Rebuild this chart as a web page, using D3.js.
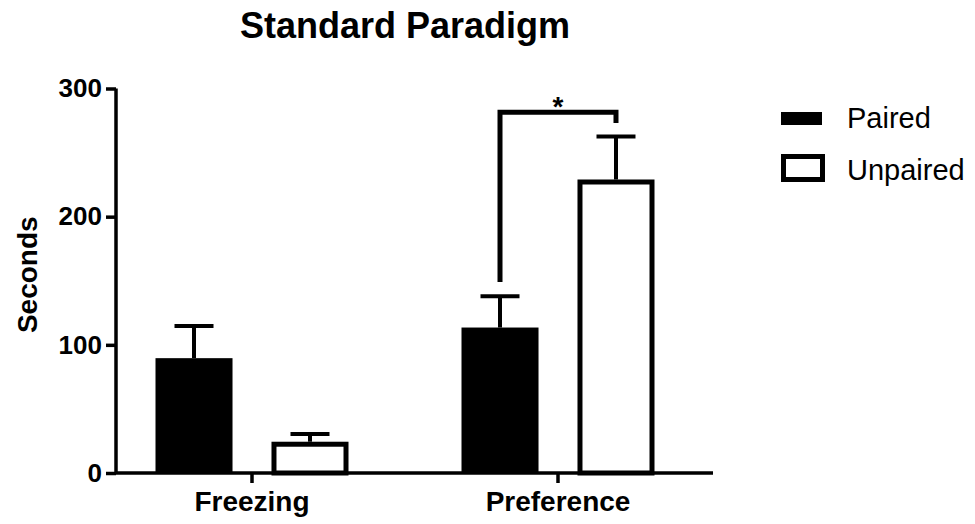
<!DOCTYPE html>
<html>
<head>
<meta charset="utf-8">
<script src="https://cdn.jsdelivr.net/npm/d3@7"></script>
<style>
  body { margin: 0; background: #fff; }
  svg { display: block; font-family: "Liberation Sans", Arial, sans-serif; }
</style>
</head>
<body>
<div id="chart"></div>
<script>
// data
const categories = ["Freezing", "Preference"];
const series = ["Paired", "Unpaired"];
const pairedMean = [89.6, 113.5];
const pairedSem = [25, 24.5];
const unpairedMean = [24.4, 229];
const unpairedSem = [6, 33.6];
const yTicks = [0, 100, 200, 300];
// significance bracket: Preference, Paired vs Unpaired
const sigLeftFrom = 149, sigRightFrom = 273, sigTop = 281.5;

const width = 975, height = 524;
const svg = d3.select("#chart").append("svg")
  .attr("width", width)
  .attr("height", height);

const y = d3.scaleLinear().domain([0, 300]).range([473, 88.5]);
const x = d3.scaleBand().domain(categories).range([99, 711]);
const xSub = d3.scaleBand().domain(series).range([-96.5, 96.5]).paddingInner(0.336);

const rows = [];
categories.forEach((c, i) => {
  rows.push({ cat: c, s: "Paired", mean: pairedMean[i], sem: pairedSem[i] });
  rows.push({ cat: c, s: "Unpaired", mean: unpairedMean[i], sem: unpairedSem[i] });
});
const cx = d => x(d.cat) + x.bandwidth() / 2;
const sx = d => cx(d) + xSub(d.s);
const bw = xSub.bandwidth();

// error bars (drawn first so bars sit on top)
const g = svg.append("g");
g.selectAll("line.err").data(rows).enter().append("line")
  .attr("x1", d => sx(d) + bw / 2).attr("x2", d => sx(d) + bw / 2)
  .attr("y1", d => y(d.mean)).attr("y2", d => y(d.mean + d.sem))
  .attr("stroke", "#000").attr("stroke-width", 4);
g.selectAll("line.cap").data(rows).enter().append("line")
  .attr("x1", d => sx(d) + bw / 2 - 19.5).attr("x2", d => sx(d) + bw / 2 + 19.5)
  .attr("y1", d => y(d.mean + d.sem)).attr("y2", d => y(d.mean + d.sem))
  .attr("stroke", "#000").attr("stroke-width", 4);

// bars
g.selectAll("rect.bar").data(rows).enter().append("rect")
  .attr("x", d => d.s === "Paired" ? sx(d) : sx(d) + 2.5)
  .attr("width", d => d.s === "Paired" ? bw : bw - 5)
  .attr("y", d => d.s === "Paired" ? y(d.mean) : y(d.mean) + 2.5)
  .attr("height", d => d.s === "Paired" ? y(0) - y(d.mean) : y(0) - y(d.mean) - 2.5)
  .attr("fill", d => d.s === "Paired" ? "#000" : "#fff")
  .attr("stroke", d => d.s === "Paired" ? "none" : "#000")
  .attr("stroke-width", 5);

// axes
const yAxis = svg.append("g")
  .attr("transform", "translate(116,0)")
  .call(d3.axisLeft(y).tickValues(yTicks).tickSize(10).tickPadding(4));
yAxis.select(".domain").attr("d", `M0,${y(300)}V${y(0)}`);
const xAxis = svg.append("g")
  .attr("transform", `translate(0,${y(0)})`)
  .call(d3.axisBottom(x).tickSize(10).tickPadding(8));
xAxis.select(".domain").attr("d", "M116,0H713");
svg.selectAll(".domain").attr("stroke", "#000").attr("stroke-width", 3.5);
svg.selectAll(".tick line").attr("stroke", "#000").attr("stroke-width", 3.5);
yAxis.selectAll(".tick text")
  .attr("font-size", 26).attr("font-weight", "bold").attr("fill", "#000")
  .attr("font-family", "Liberation Sans, Arial, sans-serif");
xAxis.selectAll(".tick text")
  .attr("font-size", 28).attr("font-weight", "bold").attr("fill", "#000")
  .attr("font-family", "Liberation Sans, Arial, sans-serif");

// significance bracket
const pref = rows.filter(d => d.cat === "Preference");
const lx = sx(pref[0]) + bw / 2, rx = sx(pref[1]) + bw / 2;
svg.append("path")
  .attr("d", `M${lx},${y(sigLeftFrom)}V${y(sigTop)}H${rx}V${y(sigRightFrom)}`)
  .attr("fill", "none").attr("stroke", "#000").attr("stroke-width", 5);
svg.append("text")
  .attr("x", (lx + rx) / 2).attr("y", y(sigTop) + 4)
  .attr("text-anchor", "middle").attr("font-size", 28).attr("font-weight", "bold")
  .text("*");

// title
svg.append("text")
  .attr("x", 405).attr("y", 38)
  .attr("text-anchor", "middle").attr("font-size", 36).attr("font-weight", "bold")
  .text("Standard Paradigm");

// y label
svg.append("text")
  .attr("transform", `translate(37,${(y(0) + y(300)) / 2 - 6}) rotate(-90)`)
  .attr("text-anchor", "middle").attr("font-size", 28).attr("font-weight", "bold")
  .text("Seconds");

// legend
const legend = svg.append("g").attr("transform", "translate(781,0)");
legend.append("rect").attr("x", 0).attr("y", 112).attr("width", 41).attr("height", 13).attr("fill", "#000");
legend.append("rect").attr("x", 2.5).attr("y", 156.5).attr("width", 39).attr("height", 23)
  .attr("fill", "#fff").attr("stroke", "#000").attr("stroke-width", 5);
legend.selectAll("text.lg").data(series).enter().append("text")
  .attr("x", 66).attr("y", (d, i) => 128 + i * 52)
  .attr("font-size", 29)
  .text(d => d);
</script>
</body>
</html>
